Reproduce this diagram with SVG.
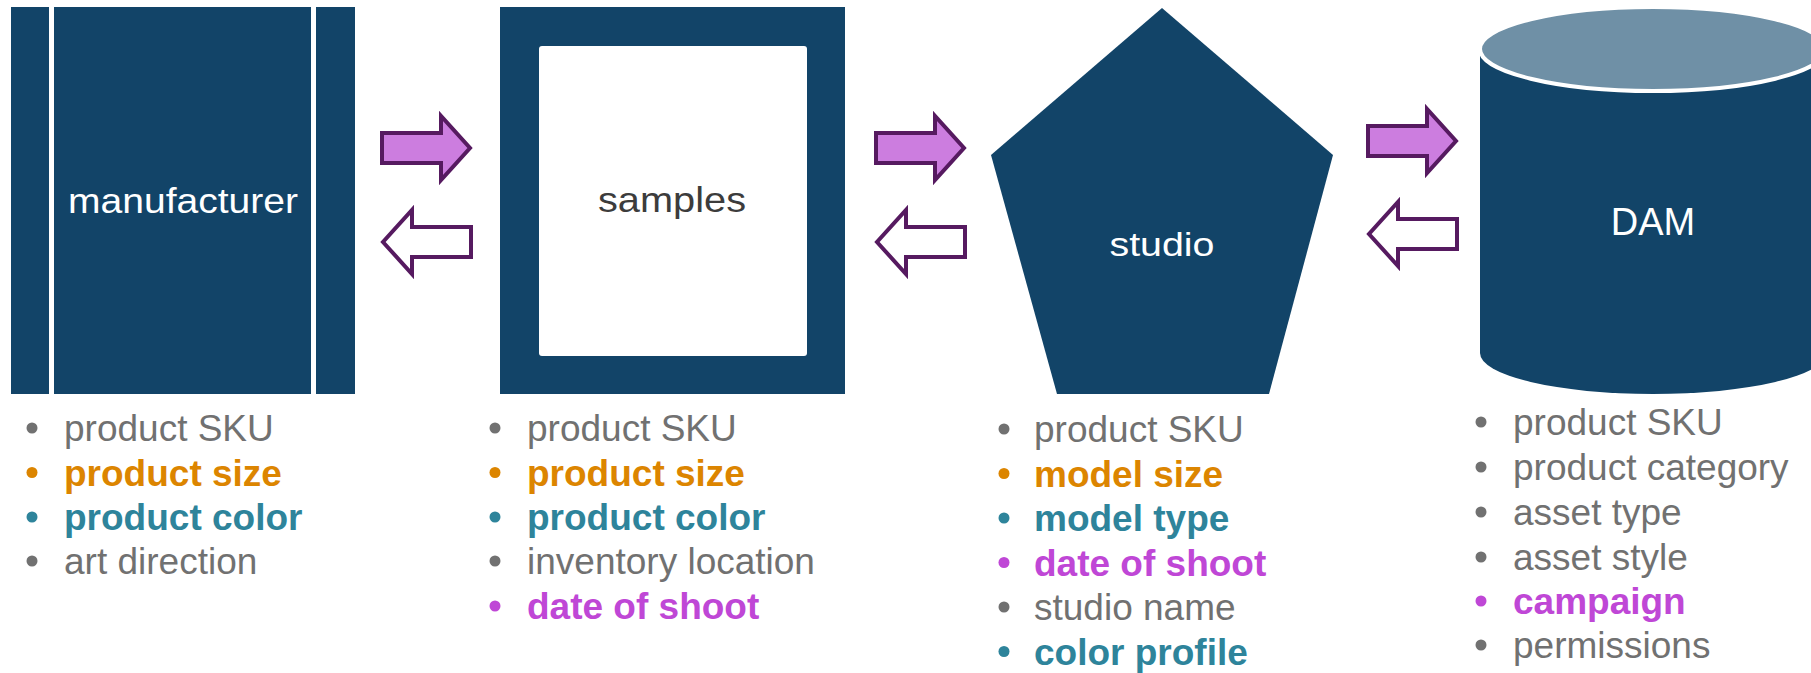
<svg xmlns="http://www.w3.org/2000/svg" width="1811" height="673" viewBox="0 0 1811 673">
<style>
.navy{fill:#124468}
.lbl{font-family:"Liberation Sans",Arial,sans-serif;text-anchor:middle}
.li{font-family:"Liberation Sans",Arial,sans-serif;font-size:37px}
.g{fill:#717171}
.o{fill:#dc8500;font-weight:bold}
.t{fill:#2e849b;font-weight:bold}
.m{fill:#bf47d6;font-weight:bold}
.arR{fill:#cc7ddf;stroke:#561a60;stroke-width:4;stroke-linejoin:miter}
.arL{fill:#ffffff;stroke:#561a60;stroke-width:4;stroke-linejoin:miter}
</style>
<defs>
<path id="ra" d="M2,20 H61 V3 L90,35 L61,67 V50 H2 Z"/>
<path id="la" d="M91,20 H32 V3 L3,35 L32,67 V50 H91 Z"/>
</defs>
<rect width="1811" height="673" fill="#ffffff"/>

<g id="manufacturer">
<rect class="navy" x="11" y="7" width="38" height="387"/>
<rect class="navy" x="54" y="7" width="257" height="387"/>
<rect class="navy" x="316" y="7" width="39" height="387"/>
<text class="lbl" x="183" y="213" font-size="35" fill="#ffffff" textLength="230" lengthAdjust="spacingAndGlyphs">manufacturer</text>
</g>

<g id="samples">
<rect class="navy" x="500" y="7" width="345" height="387"/>
<rect x="539" y="46" width="268" height="310" rx="3" fill="#ffffff"/>
<text class="lbl" x="672" y="212" font-size="35" fill="#3c3c3c" textLength="148" lengthAdjust="spacingAndGlyphs">samples</text>
</g>

<g id="studio">
<polygon class="navy" points="1162,8 1333,155 1269,394 1057,394 991,155"/>
<text class="lbl" x="1162" y="256" font-size="34" fill="#ffffff" textLength="105" lengthAdjust="spacingAndGlyphs">studio</text>
</g>

<g id="dam">
<path class="navy" d="M1480,49 L1480,353 A173,41 0 0 0 1826,353 L1826,49 Z"/>
<ellipse cx="1653" cy="49" rx="173" ry="42" fill="#6f90a6" stroke="#ffffff" stroke-width="4"/>
<text class="lbl" x="1653" y="235" font-size="38" fill="#ffffff">DAM</text>
</g>

<g id="connectors">
<use href="#ra" class="arR" transform="translate(380,113)"/>
<use href="#la" class="arL" transform="translate(380,207)"/>
<use href="#ra" class="arR" transform="translate(874,113)"/>
<use href="#la" class="arL" transform="translate(874,207)"/>
<use href="#ra" class="arR" transform="translate(1366,106)"/>
<use href="#la" class="arL" transform="translate(1366,199)"/>
</g>

<g id="list-manufacturer">
<circle cx="32" cy="428" r="5.5" fill="#717171"/>
<text class="li g" x="64" y="441">product SKU</text>
<circle cx="32" cy="472.5" r="5.5" fill="#dc8500"/>
<text class="li o" x="64" y="485.5">product size</text>
<circle cx="32" cy="517" r="5.5" fill="#2e849b"/>
<text class="li t" x="64" y="530">product color</text>
<circle cx="32" cy="561" r="5.5" fill="#717171"/>
<text class="li g" x="64" y="574">art direction</text>
</g>

<g id="list-samples">
<circle cx="495" cy="428" r="5.5" fill="#717171"/>
<text class="li g" x="527" y="441">product SKU</text>
<circle cx="495" cy="472.5" r="5.5" fill="#dc8500"/>
<text class="li o" x="527" y="485.5">product size</text>
<circle cx="495" cy="517" r="5.5" fill="#2e849b"/>
<text class="li t" x="527" y="530">product color</text>
<circle cx="495" cy="561" r="5.5" fill="#717171"/>
<text class="li g" x="527" y="574">inventory location</text>
<circle cx="495" cy="606" r="5.5" fill="#bf47d6"/>
<text class="li m" x="527" y="619">date of shoot</text>
</g>

<g id="list-studio">
<circle cx="1004" cy="429" r="5.5" fill="#717171"/>
<text class="li g" x="1034" y="442">product SKU</text>
<circle cx="1004" cy="473.5" r="5.5" fill="#dc8500"/>
<text class="li o" x="1034" y="486.5">model size</text>
<circle cx="1004" cy="518" r="5.5" fill="#2e849b"/>
<text class="li t" x="1034" y="531">model type</text>
<circle cx="1004" cy="562.5" r="5.5" fill="#bf47d6"/>
<text class="li m" x="1034" y="575.5">date of shoot</text>
<circle cx="1004" cy="607" r="5.5" fill="#717171"/>
<text class="li g" x="1034" y="620">studio name</text>
<circle cx="1004" cy="651.5" r="5.5" fill="#2e849b"/>
<text class="li t" x="1034" y="664.5">color profile</text>
</g>

<g id="list-dam">
<circle cx="1481" cy="422" r="5.5" fill="#717171"/>
<text class="li g" x="1513" y="435">product SKU</text>
<circle cx="1481" cy="467" r="5.5" fill="#717171"/>
<text class="li g" x="1513" y="480">product category</text>
<circle cx="1481" cy="512" r="5.5" fill="#717171"/>
<text class="li g" x="1513" y="525">asset type</text>
<circle cx="1481" cy="557" r="5.5" fill="#717171"/>
<text class="li g" x="1513" y="570">asset style</text>
<circle cx="1481" cy="601" r="5.5" fill="#bf47d6"/>
<text class="li m" x="1513" y="614">campaign</text>
<circle cx="1481" cy="645" r="5.5" fill="#717171"/>
<text class="li g" x="1513" y="658">permissions</text>
</g>
</svg>
